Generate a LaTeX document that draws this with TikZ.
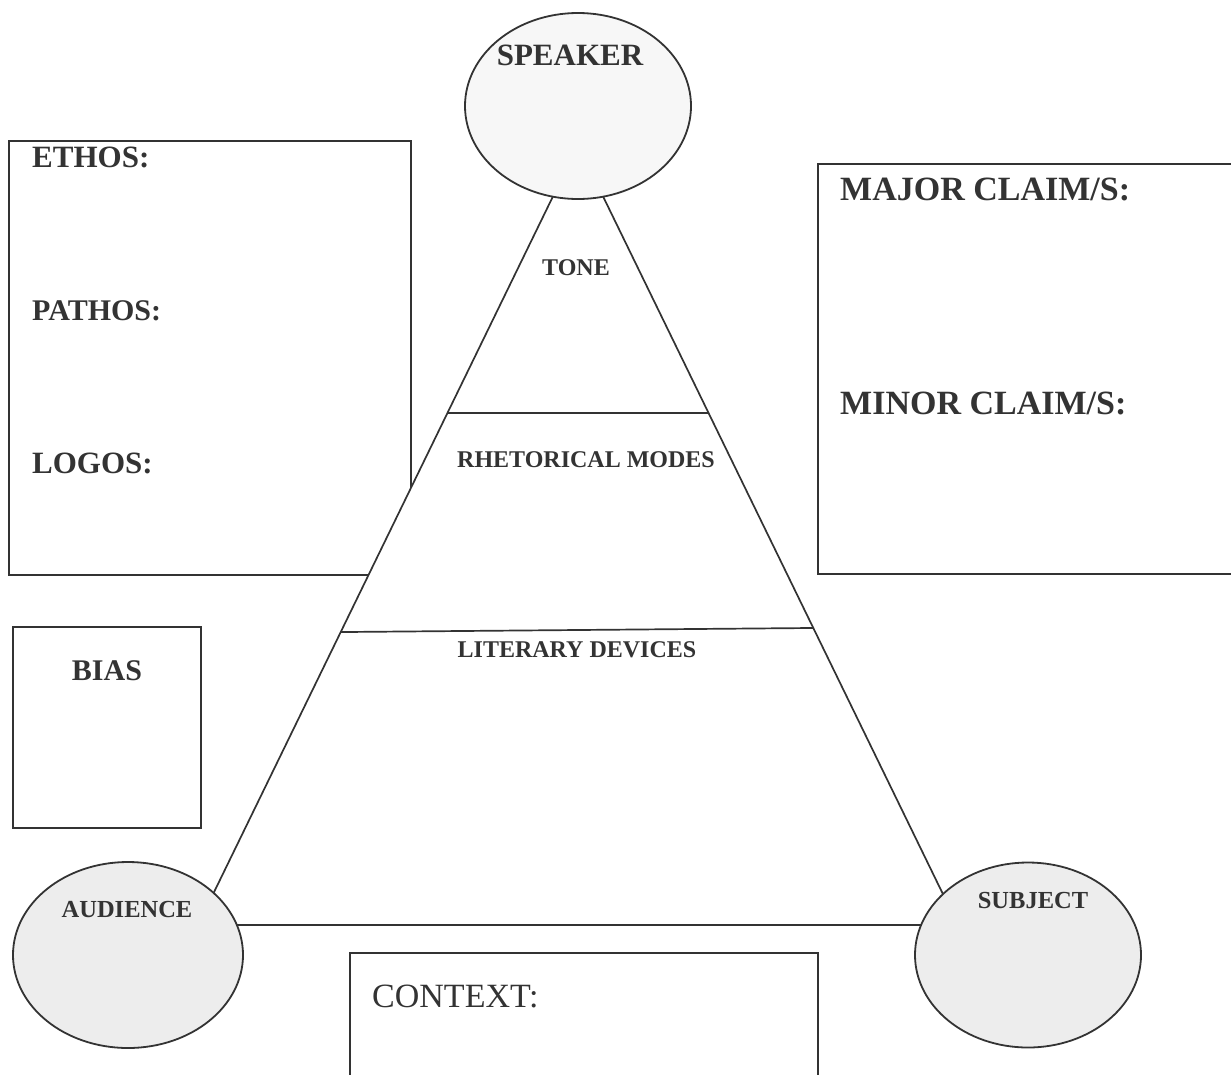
\documentclass[tikz,border=0pt]{standalone}
\usepackage{fontspec}
\setmainfont{Liberation Serif}
\usetikzlibrary{shapes.geometric,calc}
\definecolor{ink}{HTML}{333333}
\definecolor{ovalgray}{HTML}{EDEDED}
\definecolor{topgray}{HTML}{F7F7F7}
\begin{document}
\begin{tikzpicture}[x=1pt,y=-1pt,
  box/.style={draw=ink,line width=1.7pt},
  oval/.style={ellipse,draw=ink,line width=1.8pt,inner sep=0pt},
  lbl/.style={text=ink,inner sep=0pt,font=\bfseries\fontsize{#1}{#1}\selectfont},
  rlbl/.style={text=ink,inner sep=0pt,font=\fontsize{#1}{#1}\selectfont},
]
\useasboundingbox (0,0) rectangle (1231,1074);

% side boxes
\draw[box] (9,141) rectangle (411,575);
\draw[box] (818,164) rectangle (1240,574);
\draw[box] (13,627) rectangle (201,828);
\draw[box] (350,953) rectangle (818,1085);

% triangle
\coordinate (apex) at (578,145);
\coordinate (bl) at (198,925);
\coordinate (br) at (958,925);
\draw[box,fill=white] (apex) -- (bl) -- (br) -- cycle;
\draw[box] ($(apex)!0.3436!(bl)$) -- ($(apex)!0.3436!(br)$);
\draw[box] ($(apex)!0.6244!(bl)$) -- ($(apex)!0.6192!(br)$);

% ellipses
\node[oval,fill=topgray,minimum width=226pt,minimum height=186pt] (speaker) at (578,106) {};
\node[oval,fill=ovalgray,minimum width=230pt,minimum height=186pt] (audience) at (128,955) {};
\node[oval,fill=ovalgray,minimum width=226pt,minimum height=185pt] (subject) at (1028,955) {};

% labels
\node[lbl=31,anchor=base] (tspeaker) at (570,65) {SPEAKER};
\node[lbl=24,anchor=base] (ttone) at (576,275) {TONE};
\node[lbl=24,anchor=base] (trhet) at (586,467) {RHETORICAL MODES};
\node[lbl=24,anchor=base] (tlit) at (577,657) {LITERARY DEVICES};
\node[lbl=31,anchor=base west] (tethos) at (32,167) {ETHOS:};
\node[lbl=30,anchor=base west] (tpathos) at (32,320) {PATHOS:};
\node[lbl=31,anchor=base west] (tlogos) at (32,473) {LOGOS:};
\node[lbl=34,anchor=base west] (tmajor) at (840,200) {MAJOR CLAIM/S:};
\node[lbl=34,anchor=base west] (tminor) at (840,414) {MINOR CLAIM/S:};
\node[lbl=30,anchor=base] (tbias) at (107,680) {BIAS};
\node[lbl=24.5,anchor=base] (taud) at (127,917) {AUDIENCE};
\node[lbl=24.5,anchor=base] (tsubj) at (1033,908) {SUBJECT};
\node[rlbl=34,anchor=base west] (tcontext) at (372,1007) {CONTEXT:};
\end{tikzpicture}
\end{document}
